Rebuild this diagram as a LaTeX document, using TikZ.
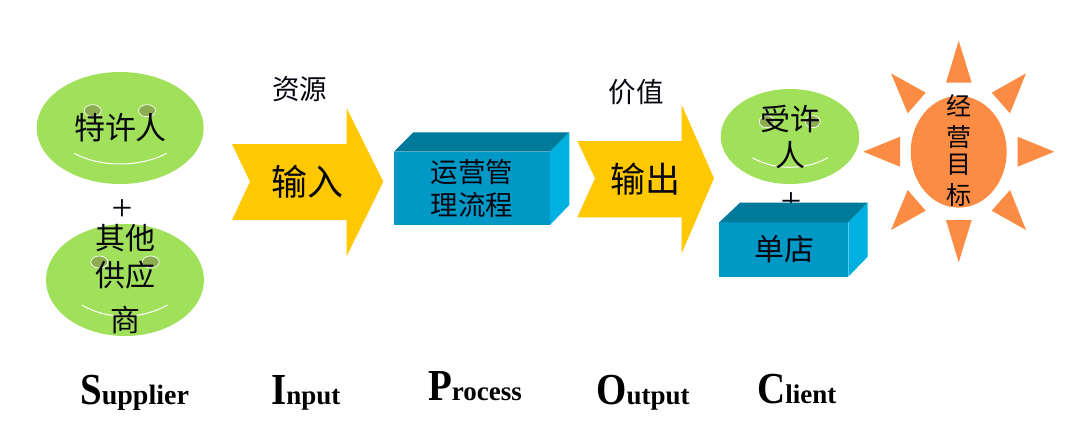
\documentclass[tikz,border=0pt]{standalone}
\usepackage{fontspec}
\usepackage{graphicx}
\setmainfont{Liberation Serif}
\newfontfamily\cjkf{Noto Sans CJK SC}
\usetikzlibrary{shapes.geometric}
\definecolor{facegreen}{HTML}{A0E05A}
\definecolor{eyegreen}{HTML}{8CAE50}
\definecolor{arrowyellow}{HTML}{FFC800}
\definecolor{boxfront}{HTML}{0099C6}
\definecolor{boxtop}{HTML}{007A9A}
\definecolor{boxside}{HTML}{00B0E0}
\definecolor{sunorange}{HTML}{FC8C44}
\definecolor{inkdark}{HTML}{05050F}
\tikzset{
  face/.style={fill=facegreen,shape=ellipse,inner sep=0pt},
  eye/.style={fill=eyegreen,draw=white,line width=0.7pt,shape=ellipse,inner sep=0pt,minimum width=17pt,minimum height=12pt},
  smile/.style={draw=white,line width=1pt},
  bigarrow/.style={fill=arrowyellow},
  ray/.style={fill=sunorange},
  cjklabel/.style={inner sep=0pt,text=inkdark,font=\cjkf\fontsize{#1}{#1}\selectfont},
  plus/.style={inner sep=0pt,text=inkdark,font=\fontsize{37}{37}\selectfont},
  latin/.style={inner sep=0pt,anchor=base west,font=\bfseries\fontsize{#1}{#1}\selectfont},
  latin/.default=27
}
\newcommand{\initialcap}[1]{\scalebox{0.95}[1.08]{\fontsize{41}{41}\selectfont #1}}
\begin{document}
\begin{tikzpicture}[x=1pt,y=-1pt]
\useasboundingbox (0,0) rectangle (1088,445);
% supplier face 1
\node[face,minimum width=167pt,minimum height=112pt] (f1) at (120.2,128) {};
\node[eye] (e1a) at (92.7,110.7) {};
\node[eye] (e1b) at (147,110.7) {};
\draw[smile] (74,153.3) .. controls (100,167.5) and (140,167.5) .. (166.7,153.3);
\node[cjklabel=31] (t1) at (120.5,127.5) {特许人};
\node[plus] (p1) at (122,210) {+};
% supplier face 2
\node[face,minimum width=158pt,minimum height=112pt] (f2) at (125,280) {};
\node[eye] (e2a) at (99.3,262) {};
\node[eye] (e2b) at (150.7,262) {};
\draw[smile] (81.7,305) .. controls (108,320) and (140,320) .. (167.7,305);
\node[cjklabel=30] (t2a) at (125,238) {其他};
\node[cjklabel=30] (t2b) at (125,275) {供应};
\node[cjklabel=30] (t2c) at (125,320) {商};
% input arrow
\fill[bigarrow] (232,144) -- (346.7,144) -- (346.7,108.3) -- (383.3,181.7) -- (346.7,256) -- (346.7,220) -- (232,220) -- (250,181.7) -- cycle;
\node[cjklabel=27.5] (t3) at (299.5,89) {资源};
\node[cjklabel=36] (t4) at (307.5,181.5) {输入};
% process box
\fill[boxfront] (394,151.7) rectangle (550,225);
\fill[boxtop] (394,151.7) -- (413.3,132.3) -- (569.3,132.3) -- (550,151.7) -- cycle;
\fill[boxside] (550,151.7) -- (569.3,132.3) -- (569.3,205) -- (550,225) -- cycle;
\node[cjklabel=27.5] (t5a) at (472,172) {运营管};
\node[cjklabel=27.5] (t5b) at (472,205) {理流程};
% output arrow
\fill[bigarrow] (577.3,141) -- (681.7,141) -- (681.7,105) -- (714,178.3) -- (681.7,253.3) -- (681.7,217.3) -- (577.3,217.3) -- (595,178.3) -- cycle;
\node[cjklabel=27.5] (t6) at (636,92) {价值};
\node[cjklabel=35] (t7) at (645,179.5) {输出};
% client face
\node[face,minimum width=138.5pt,minimum height=95pt] (f3) at (790,136.5) {};
\node[eye,minimum width=15pt] (e3a) at (766.7,121.7) {};
\node[eye,minimum width=15pt] (e3b) at (812.7,121.7) {};
\draw[smile] (752.3,157.7) .. controls (775,170.5) and (805,170.5) .. (828,157.7);
\node[cjklabel=30] (t8a) at (790,119) {受许};
\node[cjklabel=30] (t8b) at (790,155) {人};
\node[plus] (p2) at (791,203) {+};
% shop box
\fill[boxfront] (719.3,222.3) rectangle (848.3,276.7);
\fill[boxtop] (719.3,222.3) -- (740,202.7) -- (867.7,202.7) -- (848.3,222.3) -- cycle;
\fill[boxside] (848.3,222.3) -- (867.7,202.7) -- (867.7,256.7) -- (848.3,276.7) -- cycle;
\node[cjklabel=30] (t9) at (784,249) {单店};
% sun
\node[shape=ellipse,fill=sunorange,inner sep=0pt,minimum width=96pt,minimum height=111.7pt] (sun) at (958.7,151.8) {};
\fill[ray] (958.7,40.7) -- (946,82.7) -- (971.7,82.7) -- cycle;
\fill[ray] (946,220) -- (971.7,220) -- (958.7,262.3) -- cycle;
\fill[ray] (863.3,151.7) -- (900,136.7) -- (900,166.7) -- cycle;
\fill[ray] (1017.7,136.7) -- (1017.7,166.7) -- (1054.3,151.7) -- cycle;
\fill[ray] (891,73.3) -- (925.7,92.7) -- (907.7,113.3) -- cycle;
\fill[ray] (1026,73.3) -- (991.7,92.7) -- (1010,113.3) -- cycle;
\fill[ray] (907.7,190) -- (925.7,210.7) -- (891,230) -- cycle;
\fill[ray] (1010,190) -- (991.7,210.7) -- (1026,230) -- cycle;
\node[cjklabel=25] (g1) at (959,106) {经};
\node[cjklabel=25] (g2) at (959,137) {营};
\node[cjklabel=25] (g3) at (959,165) {目};
\node[cjklabel=25] (g4) at (959,195) {标};
% bottom labels
\node[latin=28] (s) at (80,404.5) {\initialcap{S}upplier};
\node[latin] (i) at (271,404) {\initialcap{I}nput};
\node[latin] (r) at (428,400) {\initialcap{P}rocess};
\node[latin] (o) at (596,404) {\initialcap{O}utput};
\node[latin] (c) at (757,403) {\initialcap{C}lient};
\end{tikzpicture}
\end{document}
